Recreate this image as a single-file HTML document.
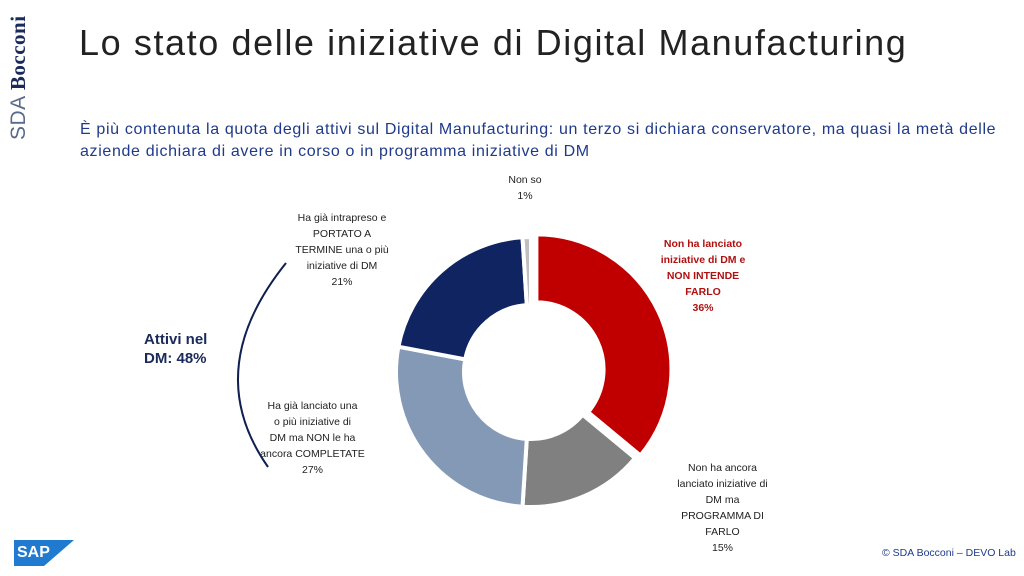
<!DOCTYPE html>
<html><head><meta charset="utf-8"><style>
body{margin:0;width:1024px;height:576px;background:#fff;position:relative;overflow:hidden;font-family:"Liberation Sans",sans-serif}
.t{position:absolute;white-space:nowrap}
.lab{position:absolute;text-align:center;font-size:10.5px;line-height:16px;color:#222}
</style></head><body>
<div class="t" style="left:6px;top:140px;transform-origin:0 0;transform:rotate(-90deg);font-size:21px;color:#1a2a5a;letter-spacing:0.5px"><span style="color:#5a6a8a">SDA</span> <b style="font-family:'Liberation Serif',serif">Bocconi</b></div>
<div class="t" style="left:79px;top:22px;font-size:36px;color:#222;letter-spacing:1.6px">Lo stato delle iniziative di Digital Manufacturing</div>
<div class="t" style="left:80px;top:119px;font-size:16px;line-height:22px;color:#1f3a8a;letter-spacing:0.65px">È più contenuta la quota degli attivi sul Digital Manufacturing: un terzo si dichiara conservatore, ma quasi la metà delle<br>aziende dichiara di avere in corso o in programma iniziative di DM</div>
<svg width="1024" height="576" style="position:absolute;left:0;top:0" id="s">
<path d="M286,263 Q200,370 268,467" fill="none" stroke="#0f1f4f" stroke-width="2"/>
</svg>
<div class="lab" style="left:470px;top:172px;width:110px">Non so<br>1%</div>
<div class="lab" style="left:282px;top:210px;width:120px">Ha già intrapreso e<br>PORTATO A<br>TERMINE una o più<br>iniziative di DM<br>21%</div>
<div class="lab" style="left:255px;top:398px;width:115px">Ha già lanciato una<br>o più iniziative di<br>DM ma NON le ha<br>ancora COMPLETATE<br>27%</div>
<div class="lab" style="left:648px;top:236px;width:110px;color:#b01010;font-weight:bold">Non ha lanciato<br>iniziative di DM e<br>NON INTENDE<br>FARLO<br>36%</div>
<div class="lab" style="left:660px;top:460px;width:125px">Non ha ancora<br>lanciato iniziative di<br>DM ma<br>PROGRAMMA DI<br>FARLO<br>15%</div>
<div class="t" style="left:144px;top:330px;font-size:15px;line-height:19px;font-weight:bold;color:#1a2a5a">Attivi nel<br>DM: 48%</div>
<div style="position:absolute;left:14px;top:540px;width:60px;height:26px;background:#1f7ad0;clip-path:polygon(0 0,100% 0,50% 100%,0 100%);color:#fff;font-weight:bold;font-size:16px;line-height:26px;padding-left:3px;box-sizing:border-box">SAP</div>
<div class="t" style="left:882px;top:547px;font-size:10.5px;color:#1f3a8a">© SDA Bocconi – DEVO Lab</div>
<script>
var s=document.getElementById('s'),cx=531,cy=372,R=135,r=67;
var d=[[36,'#c00000',6],[15,'#808080',0],[27,'#8499b6',0],[21,'#0f2460',0],[1,'#bfbfbf',0]];
var a=0;
d.forEach(function(e){
 var a0=a/100*2*Math.PI,a1=(a+e[0])/100*2*Math.PI,m=(a0+a1)/2;a+=e[0];
 var ox=cx+e[2]*Math.sin(m),oy=cy-e[2]*Math.cos(m);
 function p(rr,t){return (ox+rr*Math.sin(t)).toFixed(1)+','+(oy-rr*Math.cos(t)).toFixed(1)}
 var l=e[0]>50?1:0;
 var path=document.createElementNS('http://www.w3.org/2000/svg','path');
 path.setAttribute('d','M'+p(R,a0)+'A'+R+','+R+' 0 '+l+' 1 '+p(R,a1)+'L'+p(r,a1)+'A'+r+','+r+' 0 '+l+' 0 '+p(r,a0)+'Z');
 path.setAttribute('fill',e[1]);path.setAttribute('stroke','#fff');path.setAttribute('stroke-width','4');
 s.appendChild(path);
});
</script>
</body></html>
